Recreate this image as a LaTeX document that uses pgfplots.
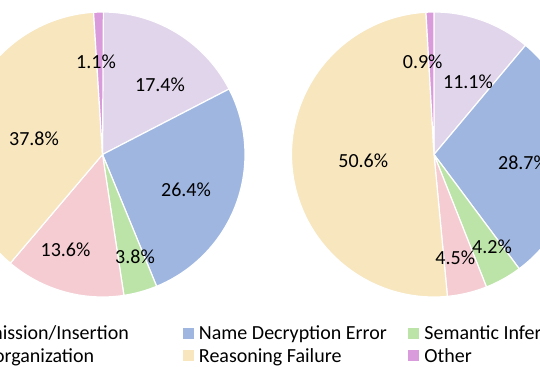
\documentclass[border=0pt]{standalone}
\usepackage{pgfplots}
\pgfplotsset{compat=1.18}
\usepackage{fontspec}
\setmainfont{Carlito}
\definecolor{lav}{RGB}{225,213,235}
\definecolor{blu}{RGB}{158,182,224}
\definecolor{grn}{RGB}{188,227,168}
\definecolor{pnk}{RGB}{244,204,210}
\definecolor{ylw}{RGB}{247,230,190}
\definecolor{prp}{RGB}{218,155,220}
\newcommand\drawpie[3]{%
  \gdef\pieang{90}%
  \foreach \v/\c in {#3}{%
    \pgfmathsetmacro\pieend{\pieang-3.6*\v}%
    \edef\temp{\noexpand\fill[\c, draw=white, line width=1.2pt] (axis cs:#1,#2) -- ++(\pieang:142.5pt) arc[start angle=\pieang, end angle=\pieend, radius=142.5pt] -- cycle;}%
    \temp
    \global\let\pieang\pieend
  }%
}
\newcommand\lf{\fontsize{20}{23}\selectfont}
\begin{document}
\begin{tikzpicture}
\begin{axis}[
  width=540pt, height=372pt, scale only axis,
  xmin=0, xmax=540, ymin=0, ymax=372,
  hide axis, clip=true,
  legend columns=3,
  legend style={at={(axis cs:-43,47.5)}, anchor=north west, draw=none, fill=none,
    inner sep=0pt, row sep=0pt,
    nodes={inner sep=0pt, anchor=base west, font=\lf, text height=15pt, text depth=7.7pt},
    /tikz/every odd column/.append style={column sep=6pt},
    /tikz/every even column/.append style={column sep=0pt}},
]
% left pie: Omission/Insertion, Name Decryption Error, Semantic Inference, Reorganization, Reasoning Failure, Other
\drawpie{102.5}{217.5}{17.4/lav, 26.4/blu, 3.8/grn, 13.6/pnk, 37.8/ylw, 1.1/prp}
% right pie
\drawpie{434}{217.5}{11.1/lav, 28.7/blu, 4.2/grn, 4.5/pnk, 50.6/ylw, 0.9/prp}
\node[font=\lf] at (axis cs:96,310) {1.1\%};
\node[font=\lf] at (axis cs:160,287) {17.4\%};
\node[font=\lf] at (axis cs:34,233) {37.8\%};
\node[font=\lf] at (axis cs:186,182) {26.4\%};
\node[font=\lf] at (axis cs:65.5,122) {13.6\%};
\node[font=\lf] at (axis cs:135,115) {3.8\%};
\node[font=\lf] at (axis cs:422.7,310) {0.9\%};
\node[font=\lf] at (axis cs:468,290) {11.1\%};
\node[font=\lf] at (axis cs:363.3,211) {50.6\%};
\node[font=\lf] at (axis cs:523,209) {28.7\%};
\node[font=\lf] at (axis cs:492,125) {4.2\%};
\node[font=\lf] at (axis cs:455.3,114) {4.5\%};
\addlegendimage{legend image code/.code={\fill[lav] (0pt,2pt) rectangle (10pt,12pt);}}
\addlegendentry{\makebox[209pt][l]{Omission/Insertion}}
\addlegendimage{legend image code/.code={\fill[blu] (0pt,2pt) rectangle (10pt,12pt);}}
\addlegendentry{\makebox[209pt][l]{Name Decryption Error}}
\addlegendimage{legend image code/.code={\fill[grn] (0pt,2pt) rectangle (10pt,12pt);}}
\addlegendentry{\makebox[209pt][l]{Semantic Inference}}
\addlegendimage{legend image code/.code={\fill[pnk] (0pt,2pt) rectangle (10pt,12pt);}}
\addlegendentry{\makebox[209pt][l]{Reorganization}}
\addlegendimage{legend image code/.code={\fill[ylw] (0pt,2pt) rectangle (10pt,12pt);}}
\addlegendentry{\makebox[209pt][l]{Reasoning Failure}}
\addlegendimage{legend image code/.code={\fill[prp] (0pt,2pt) rectangle (10pt,12pt);}}
\addlegendentry{\makebox[209pt][l]{Other}}
\end{axis}
\pgfresetboundingbox
\path (current axis.south west) rectangle (current axis.north east);
\end{tikzpicture}
\end{document}
